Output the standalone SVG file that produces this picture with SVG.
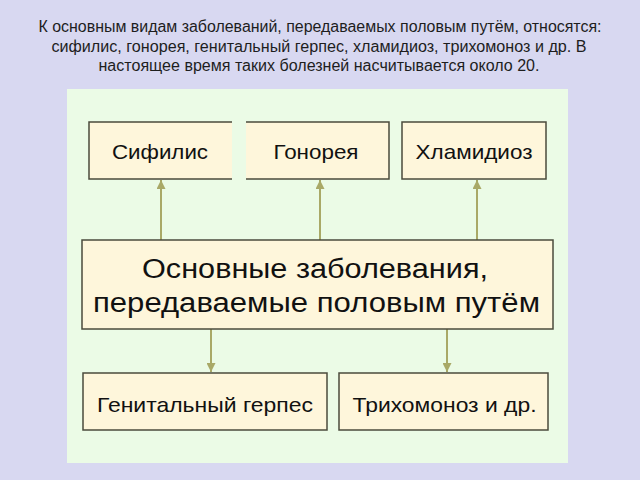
<svg xmlns="http://www.w3.org/2000/svg" width="640" height="480" viewBox="0 0 640 480">
<defs>
<style>
.bg{fill:#D8D8F1}
.panel{fill:#EBFBE6}
.box{fill:#FEF6DB;stroke:#4B4B3C;stroke-width:1.5}
.fill{fill:#FEF6DB}
.edge{stroke:#4B4B3C;stroke-width:1.5;fill:none}
.hdr{font-family:"Liberation Sans",Arial,sans-serif;font-size:16px;fill:#1E1E1E;text-anchor:middle}
.lbl{font-family:"Liberation Sans",Arial,sans-serif;font-size:21px;fill:#111;text-anchor:middle}
.big{font-family:"Liberation Sans",Arial,sans-serif;font-size:27px;fill:#111;text-anchor:middle}
.conn{stroke:#A9A967;stroke-width:2;fill:none;marker-end:url(#ah)}
</style>
<marker id="ah" viewBox="0 0 10 10" refX="10" refY="5" markerWidth="4.5" markerHeight="4.5" orient="auto" markerUnits="strokeWidth">
<path d="M0,0 L10,5 L0,10 z" fill="#A9A967"/>
</marker>
</defs>
<rect class="bg" x="0" y="0" width="640" height="480"/>
<text class="hdr" x="320" y="31.5" textLength="563" lengthAdjust="spacingAndGlyphs">К основным видам заболеваний, передаваемых половым путём, относятся:</text>
<text class="hdr" x="319" y="51.5" textLength="535" lengthAdjust="spacingAndGlyphs">сифилис, гонорея, генитальный герпес, хламидиоз, трихомоноз и др. В</text>
<text class="hdr" x="319" y="71" textLength="441" lengthAdjust="spacingAndGlyphs">настоящее время таких болезней насчитывается около 20.</text>
<rect class="panel" x="67" y="89" width="501" height="374"/>
<g id="connectors">
<line class="conn" x1="161" y1="240" x2="161" y2="180"/>
<line class="conn" x1="320" y1="240" x2="320" y2="180"/>
<line class="conn" x1="477" y1="240" x2="477" y2="180"/>
<line class="conn" x1="211" y1="329" x2="211" y2="372"/>
<line class="conn" x1="447" y1="329" x2="447" y2="372"/>
</g>
<g id="node-syphilis">
<rect class="fill" x="89" y="122" width="143" height="57"/>
<path class="edge" d="M232,122 H89 V179 H232"/>
<text class="lbl" x="160" y="159" textLength="96" lengthAdjust="spacingAndGlyphs">Сифилис</text>
</g>
<g id="node-gonorrhea">
<rect class="fill" x="246" y="122" width="143" height="57"/>
<path class="edge" d="M246,122 H389 V179 H246"/>
<text class="lbl" x="316" y="159" textLength="85" lengthAdjust="spacingAndGlyphs">Гонорея</text>
</g>
<g id="node-chlamydia">
<rect class="box" x="402" y="122" width="144" height="57"/>
<text class="lbl" x="474" y="159" textLength="117" lengthAdjust="spacingAndGlyphs">Хламидиоз</text>
</g>
<g id="node-main">
<rect class="box" x="82" y="240" width="471" height="89"/>
<text class="big" x="315" y="277.5" textLength="346" lengthAdjust="spacingAndGlyphs">Основные заболевания,</text>
<text class="big" x="316.5" y="311.5" textLength="447" lengthAdjust="spacingAndGlyphs">передаваемые половым путём</text>
</g>
<g id="node-herpes">
<rect class="box" x="83" y="373" width="244" height="57"/>
<text class="lbl" x="205" y="411.5" textLength="216" lengthAdjust="spacingAndGlyphs">Генитальный герпес</text>
</g>
<g id="node-trichomoniasis">
<rect class="box" x="339" y="373" width="209" height="57"/>
<text class="lbl" x="444.5" y="411.5" textLength="184" lengthAdjust="spacingAndGlyphs">Трихомоноз и др.</text>
</g>
</svg>
